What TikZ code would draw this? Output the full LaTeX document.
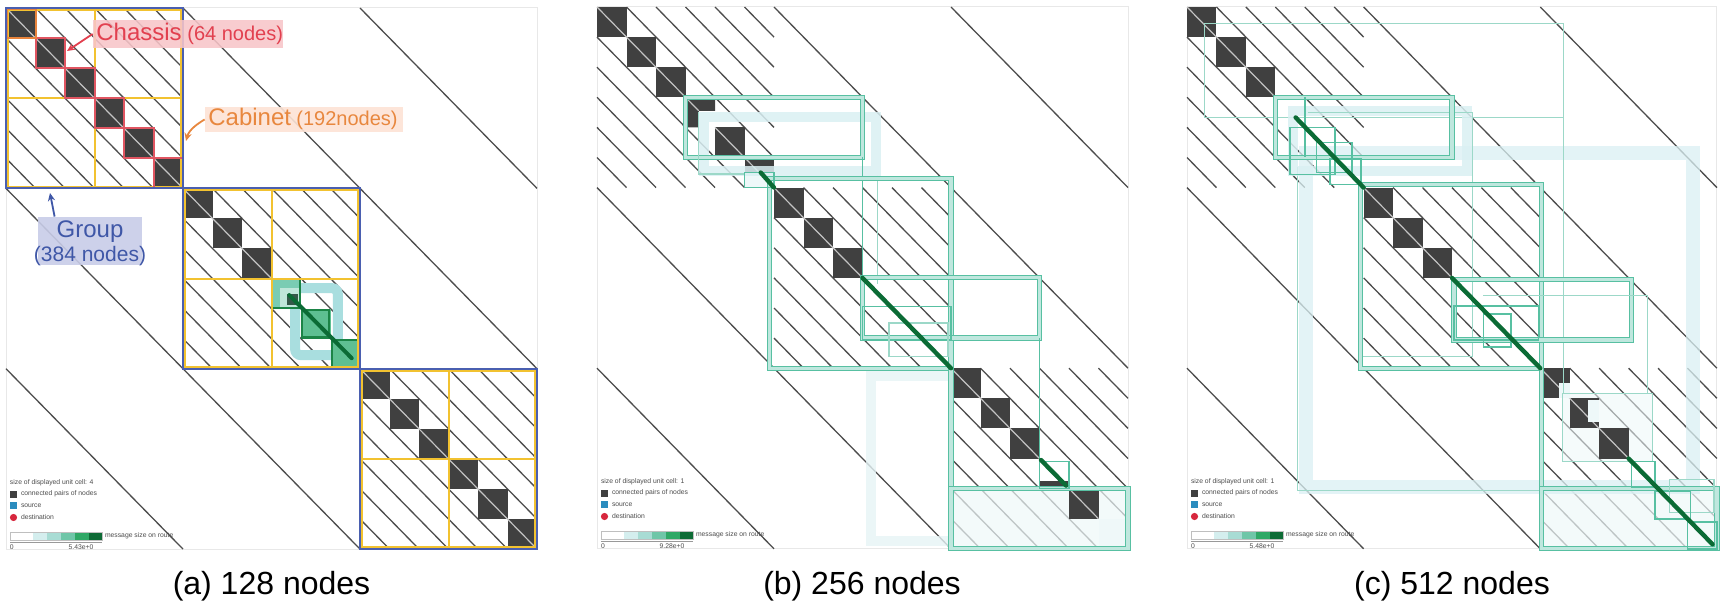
\documentclass[tikz,border=0pt]{standalone}
\usepackage{fontspec}
\setmainfont{Liberation Sans}
\usetikzlibrary{arrows.meta}

\definecolor{hatchC}{HTML}{4D4D4D}
\definecolor{cellC}{HTML}{404040}
\definecolor{diagC}{HTML}{C4C4C4}
\definecolor{grpC}{HTML}{4A5FB0}
\definecolor{cabC}{HTML}{F2C230}
\definecolor{chasC}{HTML}{E05561}
\definecolor{chasO}{HTML}{E8843C}
\definecolor{tealS}{HTML}{58C0A2}
\definecolor{tealL}{HTML}{BFE7DE}
\definecolor{tealT}{HTML}{9CD8C8}
\definecolor{bandC}{HTML}{DAF0F3}
\definecolor{bandF}{HTML}{E6F4F6}
\definecolor{fillC}{HTML}{EEF8F9}
\definecolor{dgreen}{HTML}{0B6B35}
\definecolor{dgreenB}{HTML}{1B8446}
\definecolor{gcell}{HTML}{5EBF92}
\definecolor{gcellL}{HTML}{7ACCB3}
\definecolor{gcellX}{HTML}{BFE6DA}
\definecolor{gcellD}{HTML}{35584A}
\definecolor{aband}{HTML}{A9DEDF}
\definecolor{frameC}{HTML}{E8E8E8}
\definecolor{srcC}{HTML}{2B8CBE}
\definecolor{dstC}{HTML}{D7263D}
\definecolor{barA}{HTML}{D4EEEE}
\definecolor{barB}{HTML}{A8DCD4}
\definecolor{barC}{HTML}{6FC6A8}
\definecolor{barD}{HTML}{2FA866}
\definecolor{barE}{HTML}{0E6B36}
\definecolor{chasTxt}{HTML}{E2404F}
\definecolor{chasBg}{HTML}{F8C5C9}
\definecolor{cabTxt}{HTML}{E8873E}
\definecolor{cabBg}{HTML}{FDE3D5}
\definecolor{grpTxt}{HTML}{3F57A7}
\definecolor{grpBg}{HTML}{C8CCE8}

\tikzset{
  hatch/.style={draw=hatchC, line width=0.65pt},
  dg/.style={draw=diagC, line width=0.6pt},
  grpbox/.style={draw=grpC, line width=1pt},
  cabbox/.style={draw=cabC, line width=1pt},
  chasbox/.style={draw=chasC, line width=1pt},
  tbox/.style={draw=tealS, line width=0.5pt, double=tealL, double distance=1.6pt},
  tline/.style={draw=tealS, line width=0.8pt},
  tlight/.style={draw=tealT, line width=0.6pt},
  band/.style={draw=bandC, line width=5pt, draw opacity=0.85},
  fband/.style={draw=bandF, line width=5pt, draw opacity=0.8},
  route/.style={draw=dgreen, line width=2.2pt, line cap=round},
  lgd/.style={anchor=west, inner sep=0.3pt, font=\fontsize{3.4}{4}\selectfont, text=black!70},
  captext/.style={anchor=base, inner sep=0pt, font=\fontsize{16}{19}\selectfont},
  lblbig/.style={anchor=base west, inner sep=0pt, font=\fontsize{12}{14}\selectfont},
  lblsmall/.style={anchor=base west, inner sep=0pt, font=\fontsize{10}{12}\selectfont},
  tipS/.style={-{Stealth[length=4pt,width=3.6pt]}, line width=0.9pt},
}

\newcommand{\hatchbase}{%
  \foreach \hg in {0,6,12}{%
    \foreach \hk in {1,2,3,4,5}{%
      \draw[hatch] ({\hg+\hk},\hg) -- ({\hg+6},{\hg+6-\hk});
      \draw[hatch] (\hg,{\hg+\hk}) -- ({\hg+6-\hk},{\hg+6});
    }%
  }%
  \draw[hatch] (6,0) -- (18,12);
  \draw[hatch] (12,0) -- (18,6);
  \draw[hatch] (0,6) -- (12,18);
  \draw[hatch] (0,12) -- (6,18);
}
\newcommand{\blkcell}[1]{%
  \fill[cellC] (#1,#1) rectangle ({#1+1},{#1+1});
  \draw[dg] (#1,#1) -- ({#1+1},{#1+1});
}
\newcommand{\legendbox}[3]{%
  \node[lgd] (#3u) at (3,475) {size of displayed unit cell: #1};
  \fill[cellC] (4,482.5) rectangle (11,489.5);
  \node[lgd] (#3c) at (14,486) {connected pairs of nodes};
  \fill[srcC] (4,494) rectangle (11,501);
  \node[lgd] (#3s) at (14,497.5) {source};
  \fill[dstC] (7.5,509.5) circle (3.6);
  \node[lgd] (#3d) at (14,509.5) {destination};
  \fill[white] (4,524) rectangle (27,532);
  \fill[barA] (27,524) rectangle (41,532);
  \fill[barB] (41,524) rectangle (55,532);
  \fill[barC] (55,524) rectangle (69,532);
  \fill[barD] (69,524) rectangle (83,532);
  \fill[barE] (83,524) rectangle (96,532);
  \draw[black!25, line width=0.25pt] (4,524) rectangle (96,532);
  \draw[black!40, line width=0.25pt] (4,534) -- (96,534);
  \node[lgd] (#3m) at (98,528) {message size on route};
  \node[lgd] (#3z) at (3,539) {0};
  \node[lgd, anchor=center] (#3x) at (75,539) {#2};
}

\begin{document}
\begin{tikzpicture}[x=0.5pt,y=-0.5pt]
\fill[white] (0,0) rectangle (1725,609);
\useasboundingbox (0,0) rectangle (1725,609);

%================ PANEL A =================
\begin{scope}[shift={(6,8)}, x=14.75pt, y=-15.03pt]
  \draw[frameC, line width=0.5pt] (0,0) rectangle (18,18);
  \hatchbase
  \foreach \i in {0,1,2,3,4,5,6,7,8,12,13,14,15,16,17} {\blkcell{\i}}
  % highlighted cabinet in group 2
  \draw[draw=aband, line width=5pt, rounded corners=3pt] (9.8,9.32) rectangle (11.25,11.55);
  \fill[gcellL] (9,9) rectangle (10,10);
  \fill[gcellX] (9.3,9.3) rectangle (9.95,9.95);
  \fill[gcellD] (9.52,9.5) rectangle (9.9,9.88);
  \draw[dgreenB, line width=0.9pt] (9.03,9.03) rectangle (9.97,9.97);
  \foreach \i in {10,11} {%
    \fill[gcell] (\i,\i) rectangle ({\i+1},{\i+1});
    \draw[dgreenB, line width=1.1pt] ({\i+0.04},{\i+0.04}) rectangle ({\i+0.96},{\i+0.96});
  }
  \draw[route, line width=2pt] (9.6,9.55) -- (11.72,11.65);
  % cabinets
  \foreach \g in {0,6,12} {%
    \draw[cabbox] ({\g+0.06},{\g+0.06}) rectangle ({\g+5.94},{\g+5.94});
    \draw[cabbox] ({\g+3},\g) -- ({\g+3},{\g+6});
    \draw[cabbox] (\g,{\g+3}) -- ({\g+6},{\g+3});
  }
  % chassis outlines in group 1
  \foreach \i in {1,2,3,4,5} {\draw[chasbox] (\i,\i) rectangle ({\i+1},{\i+1});}
  \draw[draw=chasO, line width=1pt] (0.03,0.03) rectangle (1,1);
  % groups
  \foreach \g in {0,6,12} {\draw[grpbox] (\g,\g) rectangle ({\g+6},{\g+6});}
\end{scope}
\begin{scope}[shift={(6,8)}]
  \legendbox{4}{5.43e+0}{la}
\end{scope}

% labels of panel a
\node[fill=chasBg, fill opacity=0.88, minimum width=95pt, minimum height=14pt, inner sep=0] (chbg) at (188,34) {};
\node[lblbig, text=chasTxt] (chlbl) at (96,41) {Chassis};
\node[lblsmall, text=chasTxt] (chnum) at (187,41) {(64 nodes)};
\coordinate (chtip) at (67,51);
\draw[tipS, chasTxt] (chbg.west) -- (chtip);

\node[fill=cabBg, fill opacity=0.9, minimum width=99pt, minimum height=12.5pt, inner sep=0] (cabbg) at (304,119.5) {};
\node[lblbig, text=cabTxt] (cablbl) at (208,126) {Cabinet};
\node[lblsmall, text=cabTxt] (cabnum) at (296,126) {(192nodes)};
\coordinate (cabtip) at (186,141);
\draw[tipS, cabTxt] (cabbg.west) .. controls (197,124) and (189,130) .. (cabtip);

\node[fill=grpBg, fill opacity=0.9, minimum width=52pt, minimum height=24pt, inner sep=0] (grpbg) at (90,241) {};
\node[anchor=base, inner sep=0, font=\fontsize{12}{14}\selectfont, text=grpTxt] (grplbl) at (90,238) {Group};
\node[anchor=base, inner sep=0, font=\fontsize{10.5}{12}\selectfont, text=grpTxt] (grpnum) at (90,262) {(384 nodes)};
\coordinate (grptip) at (50,193);
\draw[tipS, grpTxt] ([xshift=8.5pt]grpbg.north west) -- (grptip);

%================ PANEL B =================
\begin{scope}[shift={(597,7)}, x=14.75pt, y=-15.05pt]
  \draw[frameC, line width=0.5pt] (0,0) rectangle (18,18);
  \hatchbase
  \fill[fillC, opacity=0.7] (12,16) rectangle (18,18);
  \fill[fillC] (5,5.5) rectangle (6,6);
  \fill[fillC, opacity=0.8] (17,17) rectangle (18,18);
  \foreach \i in {0,1,2,4,6,7,8,12,13,14,16} {\blkcell{\i}}
  \fill[cellC] (3,3) -- (4,3) -- (4,3.45) -- (3.45,3.45) -- (3.45,4) -- (3,4) -- cycle;
  \draw[dg] (3,3) -- (3.45,3.45);
  \fill[cellC] (5,5) rectangle (6,5.5);
  \draw[dg] (5,5) -- (5.5,5.5);
  \fill[cellC] (15,15.75) rectangle (16,16);
  \draw[band] (3.62,3.67) rectangle (9.45,5.45);
  \draw[fband] (12,12.25) -- (9.3,12.25) -- (9.3,17.75) -- (12,17.75);
  \draw[tbox] (3,3) rectangle (9,5);
  \draw[tline] (9,5) -- (9,9);
  \draw[tlight] (9.5,5.6) -- (9.5,9.2);
  \draw[tlight] (3.45,3.5) -- (3.45,5.55) -- (5,5.55);
  \draw[tbox] (5.85,5.7) rectangle (12,12);
  \draw[tbox] (9,9) rectangle (15,11);
  \draw[tline] (15,11) -- (15,15.1);
  \draw[tline] (9,9.95) rectangle (12,11.05);
  \draw[tlight] (9.9,10.5) rectangle (11.9,11.6);
  \draw[tbox] (12,12) -- (12,16);
  \draw[tbox] (12,16) rectangle (18,18);
  \draw[tline] (15,15.1) rectangle (16,16);
  \draw[tline] (5,5.5) rectangle (6,6);
  \draw[route] (5.55,5.5) -- (6,6);
  \draw[route] (9,9) -- (12,12);
  \draw[route] (15.05,15.05) -- (15.9,15.9);
\end{scope}
\begin{scope}[shift={(597,7)}]
  \legendbox{1}{9.28e+0}{lb}
\end{scope}

%================ PANEL C =================
\begin{scope}[shift={(1187,7)}, x=14.72pt, y=-15.05pt]
  \draw[frameC, line width=0.5pt] (0,0) rectangle (18,18);
  \hatchbase
  \fill[fillC, opacity=0.7] (12,16) rectangle (18,18);
  \fill[fillC, opacity=0.55] (12.76,12.83) rectangle (15.8,15.1);
  \draw[band, line width=7pt, draw opacity=0.75] (4.05,4.85) rectangle (17.2,15.95);
  \foreach \i in {0,1,2,6,7,8,14} {\blkcell{\i}}
  \fill[cellC] (12,12) rectangle (13,13);
  \draw[dg] (12,12) -- (13,13);
  \fill[fillC] (12.62,12.5) rectangle (13,13);
  \fill[cellC] (13,13) rectangle (14,14);
  \draw[dg] (13,13) -- (14,14);
  \fill[fillC] (13.62,13.05) rectangle (14,13.8);
  \draw[tlight, line width=0.4pt] (3.75,5.3) -- (3.75,16.05) -- (15,16.05);
  \draw[tlight, line width=0.4pt] (0.6,0.55) rectangle (12.8,3.67);
  \draw[tlight, line width=0.4pt] (12.8,3.67) -- (12.8,12.83);
  \draw[band] (3.6,3.45) rectangle (9.5,5.45);
  \draw[tlight] (4.1,3.5) -- (9.7,3.5) -- (9.7,11.6) -- (5.9,11.6);
  \draw[tbox] (3,3) rectangle (9,5);
  \draw[tline] (4,3) -- (4,5);
  \draw[tline] (3.5,4) rectangle (5.03,5.56);
  \draw[tline] (4.4,4.5) rectangle (5.6,5.5);
  \draw[tline] (4.86,5.03) rectangle (5.9,5.9);
  \draw[tbox] (5.9,5.9) rectangle (12.05,12);
  \draw[tbox] (9.07,9.04) rectangle (15.1,11.06);
  \draw[tlight] (10.07,9.58) -- (15.63,9.58) -- (15.63,12.83);
  \draw[tline] (9.07,9.93) rectangle (11.94,11.06);
  \draw[tline] (10.07,10.2) rectangle (11,11.3);
  \draw[tlight] (12.76,12.83) rectangle (15.8,15.1);
  \draw[tbox] (12.05,12) -- (12.05,16);
  \draw[tbox] (12.05,16) rectangle (18,18);
  \draw[tline] (15.1,15.1) rectangle (15.9,15.95);
  \draw[tlight] (16.4,15.7) rectangle (17.9,16.8);
  \draw[tline] (15.9,16.1) rectangle (17.1,17);
  \draw[tline] (17,17.1) rectangle (18,18);
  \draw[route] (3.69,3.67) -- (6,6);
  \draw[route] (9,9) -- (12,12);
  \draw[route] (15,15) -- (17.85,17.85);
\end{scope}
\begin{scope}[shift={(1187,7)}]
  \legendbox{1}{5.48e+0}{lc}
\end{scope}

%================ CAPTIONS =================
\node[captext] (capa) at (271.5,594) {(a) 128 nodes};
\node[captext] (capb) at (862,594) {(b) 256 nodes};
\node[captext] (capc) at (1452,594) {(c) 512 nodes};
\end{tikzpicture}
\end{document}
